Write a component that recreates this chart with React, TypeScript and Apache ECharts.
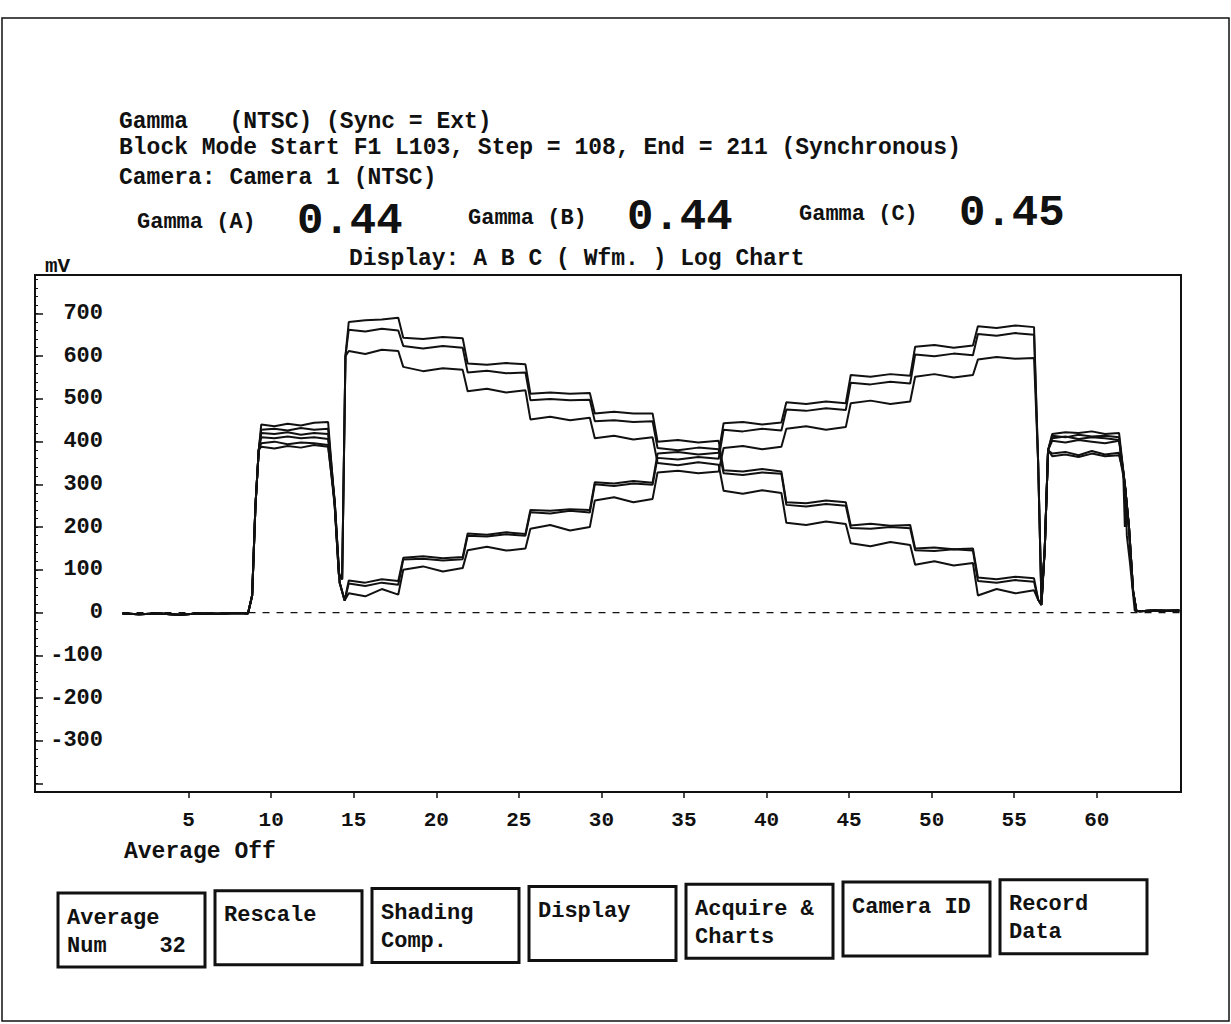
import React, { useEffect, useRef } from "react";
import * as echarts from "echarts";

// ---------- axis data ----------
const xTickLabels = [5, 10, 15, 20, 25, 30, 35, 40, 45, 50, 55, 60];
const yTickLabels = [-300, -200, -100, 0, 100, 200, 300, 400, 500, 600, 700];
const yMajorTicks = [-400, -300, -200, -100, 0, 100, 200, 300, 400, 500, 600, 700];
const X_MIN = -4.3;
const X_MAX = 65.1;
const Y_MIN = -420;
const Y_MAX = 790;

// ---------- texts ----------
const headerLines = [
  "Gamma   (NTSC) (Sync = Ext)",
  "Block Mode Start F1 L103, Step = 108, End = 211 (Synchronous)",
  "Camera: Camera 1 (NTSC)",
];
const gammaLabels = ["Gamma (A)", "Gamma (B)", "Gamma (C)"];
const gammaValues = ["0.44", "0.44", "0.45"];
const displayTitle = "Display: A B C ( Wfm. ) Log Chart";
const unitLabel = "mV";
const averageStatus = "Average Off";
const buttonLabels = [
  ["Average", "Num    32"],
  ["Rescale"],
  ["Shading", "Comp."],
  ["Display"],
  ["Acquire &", "Charts"],
  ["Camera ID"],
  ["Record", "Data"],
];

// ---------- waveform data (sample position -> mV) ----------
const baselineLeftX = [1, 2, 3.2, 4.4, 5.6, 6.8, 8.0, 8.6];
const baselineLeft = [-2, -4, -2, -5, -2, -3, -1, -2];
const riseLeftX = [8.85, 9.05, 9.25];
const riseLeft = [40, 250, 380];
const whiteLeftX = [9.4, 10.2, 11.0, 11.8, 12.6, 13.45];
const fallLeftDX = [13.85, 14.1, 14.3, 14.5];
const fallLeftD = [250, 90, 78, 600];
const fallLeftUX = [13.85, 14.15, 14.45];
const fallLeftU = [260, 70, 28];
const stepEdges = [14.5, 17.8, 21.7, 25.5, 29.4, 33.2, 37.2, 41.0, 44.9, 48.8, 52.6, 56.3];
const fallRightX = [56.45, 56.65, 56.85, 57.05];
const fallRightD = [30, 18, 150, 380];
const fallRightU = [350, 25, 150, 380];
const whiteRightX = [57.3, 58.1, 58.9, 59.7, 60.5, 61.35];
const dropRightX = [61.7, 61.95, 62.2, 62.4];
const dropRight = [300, 200, 50, 4];
const glitchX = [61.6, 61.7, 61.75, 61.82, 62.0, 62.3];
const glitch = [330, 200, 290, 180, 120, 4];
const baselineRightX = [62.6, 63.4, 64.2, 65.0];
const baselineRight = [3, 5, 4, 5];

const stepsD1 = [[680, 684, 686, 690], [643, 640, 645, 642], [583, 580, 584, 581], [512, 515, 512, 514], [466, 470, 466, 466], [400, 404, 398, 402], [333, 330, 336, 330], [258, 256, 262, 258], [204, 208, 203, 205], [150, 152, 148, 150], [82, 78, 84, 80]];
const stepsD2 = [[662, 658, 664, 660], [624, 618, 624, 620], [562, 566, 560, 562], [497, 500, 497, 498], [448, 450, 446, 448], [385, 380, 386, 382], [326, 322, 328, 325], [252, 248, 254, 250], [198, 196, 200, 197], [146, 144, 148, 145], [74, 70, 76, 72]];
const stepsD3 = [[612, 605, 615, 612], [575, 565, 572, 568], [518, 524, 515, 520], [452, 458, 450, 456], [408, 414, 405, 410], [350, 345, 352, 346], [285, 278, 286, 280], [210, 205, 213, 207], [162, 155, 165, 158], [112, 120, 110, 116], [40, 55, 45, 52]];
const stepsU1 = [[75, 70, 78, 74], [128, 132, 127, 130], [185, 182, 188, 184], [240, 238, 242, 240], [305, 302, 308, 304], [372, 376, 370, 374], [443, 446, 440, 445], [492, 488, 494, 490], [556, 552, 558, 554], [622, 626, 620, 625], [670, 666, 672, 668]];
const stepsU2 = [[68, 62, 70, 65], [124, 126, 122, 125], [180, 178, 183, 180], [235, 232, 238, 234], [300, 296, 302, 299], [362, 358, 364, 360], [428, 424, 430, 426], [475, 472, 478, 474], [538, 534, 540, 536], [604, 600, 606, 602], [652, 648, 654, 650]];
const stepsU3 = [[45, 38, 55, 42], [100, 108, 96, 104], [146, 154, 145, 150], [196, 205, 192, 200], [262, 270, 258, 266], [328, 332, 326, 330], [385, 390, 382, 388], [430, 436, 428, 434], [490, 496, 488, 494], [552, 558, 550, 556], [592, 598, 594, 596]];

const whiteLeftD1 = [440, 436, 442, 438, 444, 446];
const whiteLeftU1 = [428, 430, 426, 432, 428, 430];
const whiteLeftD2 = [420, 418, 422, 416, 420, 418];
const whiteLeftU2 = [410, 408, 412, 408, 410, 406];
const whiteLeftD3 = [396, 400, 394, 398, 396, 392];
const whiteLeftU3 = [388, 384, 390, 386, 392, 388];

const whiteRightU1 = [418, 422, 420, 424, 418, 420];
const whiteRightU2 = [414, 410, 416, 412, 414, 410];
const whiteRightD1 = [408, 412, 406, 410, 408, 404];
const whiteRightD2 = [402, 398, 404, 400, 396, 402];
const whiteRightU3 = [372, 376, 368, 378, 370, 374];
const whiteRightD3 = [366, 370, 364, 372, 366, 368];

const zeroLineX = [1, 65.1];
const zeroLine = [0, 0];

type Pt = [number, number];

function pushPairs(out: Pt[], xs: number[], ys: number[]) {
  xs.forEach((x, i) => out.push([x, ys[i]]));
}

function buildTrace(group: "D" | "U", steps: number[][], whiteL: number[], whiteR: number[], withGlitch: boolean): Pt[] {
  const pts: Pt[] = [];
  pushPairs(pts, baselineLeftX, baselineLeft);
  pushPairs(pts, riseLeftX, riseLeft);
  pushPairs(pts, whiteLeftX, whiteL);
  if (group === "D") pushPairs(pts, fallLeftDX, fallLeftD);
  else pushPairs(pts, fallLeftUX, fallLeftU);
  steps.forEach((vals, i) => {
    const a = stepEdges[i] + 0.2;
    const b = stepEdges[i + 1] - 0.1;
    vals.forEach((v, k) => pts.push([a + ((b - a) * k) / (vals.length - 1), v]));
  });
  pushPairs(pts, fallRightX, group === "D" ? fallRightD : fallRightU);
  pushPairs(pts, whiteRightX, whiteR);
  if (withGlitch) pushPairs(pts, glitchX, glitch);
  else pushPairs(pts, dropRightX, dropRight);
  pushPairs(pts, baselineRightX, baselineRight);
  return pts;
}

const MONO = '"Liberation Mono", "DejaVu Sans Mono", monospace';

function txt(x: number, y: number, text: string, size: number, weight: string = "bold", align: string = "left") {
  return {
    type: "text",
    x,
    y,
    silent: true,
    style: {
      text,
      fill: "#111",
      font: `${weight} ${size}px ${MONO}`,
      textAlign: align,
      textVerticalAlign: "middle",
      align,
      verticalAlign: "middle",
    },
  };
}

export default function App() {
  const ref = useRef<HTMLDivElement>(null);

  useEffect(() => {
    document.body.style.margin = "0";
    if (!ref.current) return;
    const chart = echarts.init(ref.current, undefined, { renderer: "svg" });

    const traces: Pt[][] = [
      buildTrace("D", stepsD1, whiteLeftD1, whiteRightD1, false),
      buildTrace("D", stepsD2, whiteLeftD2, whiteRightD2, false),
      buildTrace("D", stepsD3, whiteLeftD3, whiteRightD3, true),
      buildTrace("U", stepsU1, whiteLeftU1, whiteRightU1, false),
      buildTrace("U", stepsU2, whiteLeftU2, whiteRightU2, false),
      buildTrace("U", stepsU3, whiteLeftU3, whiteRightU3, false),
    ];

    const minorTicks: number[] = [];
    for (let v = -420; v <= 780; v += 20) minorTicks.push(v);

    const graphics: any[] = [];
    graphics.push({
      type: "rect",
      silent: true,
      shape: { x: 2, y: 18, width: 1227, height: 1003 },
      style: { fill: "none", stroke: "#111", lineWidth: 1.5 },
    });
    const headerY = [122, 148, 178];
    headerLines.forEach((t, i) => graphics.push(txt(119, headerY[i], t, 23)));
    const gLabelX = [137, 468, 799];
    const gLabelY = [222, 218, 214];
    const gValX = [297, 627, 959];
    const gValY = [221, 217, 213];
    gammaLabels.forEach((t, i) => {
      graphics.push(txt(gLabelX[i], gLabelY[i], t, 22));
      graphics.push(txt(gValX[i], gValY[i], gammaValues[i], 44, "bold"));
    });
    graphics.push(txt(45, 266, unitLabel, 21));
    graphics.push(txt(349, 259, displayTitle, 23));
    graphics.push(txt(124, 852, averageStatus, 23));
    buttonLabels.forEach((lines, i) => {
      const left = 58 + i * 157;
      const top = 893 - i * 2.2;
      graphics.push({
        type: "rect",
        silent: true,
        shape: { x: left, y: top, width: 147, height: 74 },
        style: { fill: "#fff", stroke: "#111", lineWidth: 3 },
      });
      lines.forEach((l, j) => graphics.push(txt(left + 9, top + 25 + j * 28, l, 22)));
    });

    const series: any[] = traces.map((data, i) => ({
      type: "line",
      name: "trace" + i,
      data,
      showSymbol: false,
      symbol: "none",
      silent: true,
      z: 3,
      lineStyle: { color: "#111", width: 2 },
    }));
    series.push({
      type: "line",
      name: "zero",
      data: zeroLineX.map((x, i) => [x, zeroLine[i]]),
      showSymbol: false,
      symbol: "none",
      silent: true,
      z: 2,
      lineStyle: { color: "#111", width: 1.2, type: [7, 7] },
    });

    const yBase = {
      type: "value",
      min: Y_MIN,
      max: Y_MAX,
      position: "left",
      splitLine: { show: false },
      axisLine: { show: false, onZero: false },
    };

    chart.setOption({
      animation: false,
      backgroundColor: "#fff",
      grid: {
        left: 35,
        top: 275,
        width: 1146,
        height: 517,
        show: true,
        borderColor: "#111",
        borderWidth: 2,
        backgroundColor: "transparent",
      },
      xAxis: {
        type: "value",
        min: X_MIN,
        max: X_MAX,
        position: "bottom",
        splitLine: { show: false },
        axisLine: { show: false, onZero: false },
        axisTick: {
          show: true,
          customValues: xTickLabels,
          inside: false,
          length: 6,
          lineStyle: { color: "#111", width: 1.5 },
        },
        axisLabel: {
          customValues: xTickLabels,
          margin: 18,
          color: "#111",
          fontFamily: MONO,
          fontWeight: "bold",
          fontSize: 21,
        },
      },
      yAxis: [
        {
          ...yBase,
          axisLabel: { show: false },
          axisTick: {
            show: true,
            customValues: yMajorTicks,
            inside: true,
            length: 8,
            lineStyle: { color: "#111", width: 1.5 },
          },
        },
        {
          ...yBase,
          axisLabel: { show: false },
          axisTick: {
            show: true,
            customValues: minorTicks,
            inside: true,
            length: 3,
            lineStyle: { color: "#111", width: 1 },
          },
        },
        {
          ...yBase,
          offset: -70,
          axisTick: { show: false },
          axisLabel: {
            customValues: yTickLabels,
            margin: 2,
            color: "#111",
            fontFamily: MONO,
            fontWeight: "bold",
            fontSize: 22,
          },
        },
      ],
      graphic: graphics,
      series,
    });

    return () => chart.dispose();
  }, []);

  return <div ref={ref} style={{ width: 1231, height: 1024 }} />;
}
